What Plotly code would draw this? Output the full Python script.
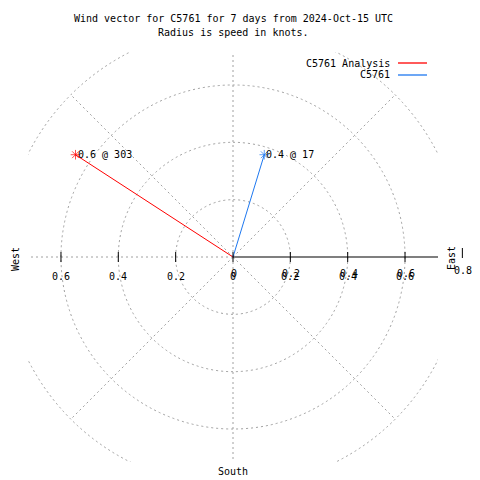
import numpy as np
import plotly.graph_objects as go

# ---- data ----
series_names = ["C5761 Analysis", "C5761"]
speeds = [0.655, 0.373]          # knots
directions = [303, 17]           # degrees, compass
vector_labels = ["0.6 @ 303", "0.4 @ 17"]
series_colors = ["#ff0000", "#1e78f0"]

ring_radii = [0.2, 0.4, 0.6, 0.8]
spoke_angles = [0, 45, 90, 135, 180, 225, 270, 315]
tick_values = [-0.6, -0.4, -0.2, 0.0, 0.2, 0.4, 0.6]
tick_labels = ["0.6", "0.4", "0.2", "0", "0.2", "0.4", "0.6"]
edge_tick = 0.8
edge_label = "0.8"

title_lines = ["Wind vector for C5761 for 7 days from 2024-Oct-15 UTC",
               "Radius is speed in knots."]

R = 0.715            # visible half-range
PLOT = 410           # plot area size in px
PX = PLOT / (2 * R)  # pixels per unit
FONT = "DejaVu Sans Mono"
GRID = "#a0a0a0"

def to_paper(v):
    return (v + R) / (2 * R)

fig = go.Figure()
shapes = []
annotations = []

# rings
for r in ring_radii:
    shapes.append(dict(type="circle", xref="x", yref="y", x0=-r, x1=r, y0=-r, y1=r,
                       line=dict(color=GRID, width=1, dash="2px,3px"), layer="below"))
# spokes
rmax = max(ring_radii)
for a in spoke_angles:
    if a == 90:
        continue
    t = np.deg2rad(a)
    shapes.append(dict(type="line", xref="x", yref="y", x0=0, y0=0,
                       x1=rmax * np.sin(t), y1=rmax * np.cos(t),
                       line=dict(color=GRID, width=1, dash="2px,3px"), layer="below"))

# east axis (solid)
shapes.append(dict(type="line", xref="x", yref="y", x0=0, y0=0, x1=R, y1=0,
                   line=dict(color="black", width=1.2)))
tk = 5 / PX
for v in tick_values:
    shapes.append(dict(type="line", xref="x", yref="y", x0=v, x1=v, y0=-tk, y1=tk,
                       line=dict(color="black", width=1)))
# edge tick (outside the clip)
shapes.append(dict(type="line", xref="paper", yref="paper",
                   x0=to_paper(edge_tick), x1=to_paper(edge_tick),
                   y0=to_paper(-1 / PX), y1=to_paper(9 / PX),
                   line=dict(color="black", width=1)))

def ann(text, x, y, xanchor="center", **kw):
    # positions given in data units, placed through paper coords (never hidden)
    d = dict(text=text, x=to_paper(x), y=to_paper(y), xref="paper", yref="paper",
             xanchor=xanchor, yanchor="middle", showarrow=False,
             font=dict(family=FONT, size=10, color="black"))
    d.update(kw)
    annotations.append(d)

for v, lab in zip(tick_values, tick_labels):
    ann(lab, v, -19 / PX)
    if v >= 0:
        ann(lab, v + 1 / PX, -16 / PX)
ann(edge_label, edge_tick + 1 / PX, -13 / PX)

ann("East", 218 / PX, -1 / PX, textangle=-90)
ann("West", -218 / PX, -2 / PX, textangle=-90)
ann("South", 0, -214 / PX)

ann(title_lines[0], 0, 238 / PX)
ann(title_lines[1], 0, 224 / PX)

# legend
leg_y = [194 / PX, 182 / PX]
for name, col, ly in zip(series_names, series_colors, leg_y):
    ann(name, 159 / PX, ly, xanchor="right")
    shapes.append(dict(type="line", xref="x", yref="y", x0=165 / PX, x1=194 / PX,
                       y0=ly, y1=ly, line=dict(color=col, width=1.3)))

# vectors
for name, s, d, lab, col in zip(series_names, speeds, directions, vector_labels, series_colors):
    t = np.deg2rad(d)
    xe, ye = s * np.sin(t), s * np.cos(t)
    fig.add_trace(go.Scatter(x=[0, xe], y=[0, ye], mode="lines+markers", name=name,
                             line=dict(color=col, width=1),
                             marker=dict(symbol=["circle", "asterisk-open"], size=[0, 8],
                                         color=col, line=dict(color=col, width=1)),
                             showlegend=False, hoverinfo="skip"))
    ann(lab, xe, ye, xanchor="left")

# page body has an 8px margin: shrink the figure so the plot lands in place
fig.update_layout(
    width=472, height=472,
    margin=dict(l=20, r=42, t=44, b=18, pad=0),
    paper_bgcolor="white", plot_bgcolor="white",
    xaxis=dict(range=[-R, R], visible=False, fixedrange=True),
    yaxis=dict(range=[-R, R], visible=False, fixedrange=True),
    shapes=shapes, annotations=annotations, showlegend=False,
)
fig.write_html("out.html")
